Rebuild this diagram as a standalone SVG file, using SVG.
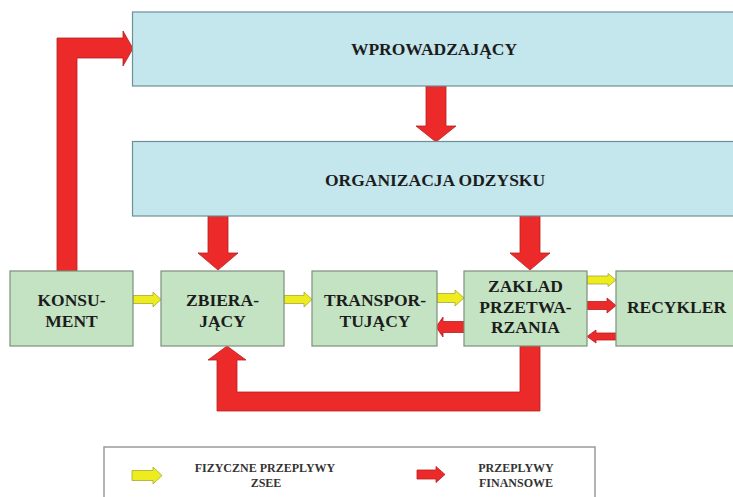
<svg xmlns="http://www.w3.org/2000/svg" width="733" height="497" viewBox="0 0 733 497">
<style>
.blue{fill:#c4e6ed;stroke:#6f8f97;stroke-width:1.2}
.green{fill:#c3e3c3;stroke:#7d8f7d;stroke-width:1.2}
.red{fill:#ec2a2a;stroke:#b81e1e;stroke-width:0.8;stroke-linejoin:miter}
.yel{fill:#ecec1e;stroke:#a8a632;stroke-width:0.8;stroke-linejoin:miter}
.t{font-family:"Liberation Serif","Times New Roman",serif;font-weight:bold;font-size:17.5px;fill:#1c1c1c;text-anchor:middle}
.s{font-family:"Liberation Serif","Times New Roman",serif;font-weight:bold;font-size:12px;fill:#333;text-anchor:middle}
.leg{fill:#fff;stroke:#9a9a9a;stroke-width:1.5}
</style>
<rect width="733" height="497" fill="#fff"/>
<g id="connectors">
<path class="red" d="M57,271 L57,38 L123,38 L123,31 L133,48.5 L123,66 L123,58 L77,58 L77,271 Z"/>
<path class="red" d="M426,86 L446,86 L446,126 L456,126 L436,142 L416,126 L426,126 Z"/>
<path class="red" d="M208,216 L228,216 L228,253 L238,253 L218,270 L198,253 L208,253 Z"/>
<path class="red" d="M520,216 L540,216 L540,253 L550,253 L530,270 L510,253 L520,253 Z"/>
<path class="red" d="M520,346 L540,346 L540,411 L217,411 L217,360 L208,360 L227,346 L246,360 L237,360 L237,392 L520,392 Z"/>
<path class="yel" d="M133,295.5 L153,295.5 L153,292 L161,299.5 L153,307 L153,303.5 L133,303.5 Z"/>
<path class="yel" d="M284,295.5 L304,295.5 L304,292 L312,299.5 L304,307 L304,303.5 L284,303.5 Z"/>
<path class="yel" d="M437,293.5 L455,293.5 L455,290 L464,298 L455,306 L455,302.5 L437,302.5 Z"/>
<path class="yel" d="M587,276 L608,276 L608,273.5 L616,280 L608,286.5 L608,284 L587,284 Z"/>
<path class="red" d="M464,321.5 L443,321.5 L443,317 L436,327 L443,337 L443,332.5 L464,332.5 Z"/>
<path class="red" d="M587,301.5 L607,301.5 L607,298 L616,305.5 L607,313 L607,309.5 L587,309.5 Z"/>
<path class="red" d="M616,333 L596,333 L596,330 L587,336.5 L596,343 L596,340 L616,340 Z"/>
</g>
<g id="wprowadzajacy">
<rect class="blue" x="132.5" y="12" width="610" height="74"/>
<text class="t" x="434" y="55">WPROWADZAJĄCY</text>
</g>
<g id="organizacja">
<rect class="blue" x="132.5" y="141.5" width="610" height="74.5"/>
<text class="t" x="435" y="186">ORGANIZACJA ODZYSKU</text>
</g>
<g id="konsument">
<rect class="green" x="10" y="271" width="123" height="75"/>
<text class="t" x="71.5" y="306">KONSU-</text>
<text class="t" x="71.5" y="327">MENT</text>
</g>
<g id="zbierajacy">
<rect class="green" x="161" y="271" width="123" height="75"/>
<text class="t" x="222.5" y="306">ZBIERA-</text>
<text class="t" x="222.5" y="327">JĄCY</text>
</g>
<g id="transportujacy">
<rect class="green" x="312" y="271" width="125" height="75"/>
<text class="t" x="375" y="306">TRANSPOR-</text>
<text class="t" x="375" y="327">TUJĄCY</text>
</g>
<g id="zaklad">
<rect class="green" x="464" y="271" width="123" height="75"/>
<text class="t" x="525.5" y="292">ZAKLAD</text>
<text class="t" x="525.5" y="313">PRZETWA-</text>
<text class="t" x="525.5" y="333">RZANIA</text>
</g>
<g id="recykler">
<rect class="green" x="616" y="271" width="130" height="75"/>
<text class="t" x="676.5" y="313">RECYKLER</text>
</g>
<g id="legend">
<rect class="leg" x="104" y="447" width="491" height="60"/>
<path class="yel" d="M132,470.5 L153,470.5 L153,467 L162,475.5 L153,484 L153,480.5 L132,480.5 Z"/>
<text class="s" x="265" y="472">FIZYCZNE PRZEPLYWY</text>
<text class="s" x="266" y="487">ZSEE</text>
<path class="red" d="M417,470 L436,470 L436,466.5 L445,474.5 L436,482.5 L436,479 L417,479 Z"/>
<text class="s" x="516" y="472">PRZEPLYWY</text>
<text class="s" x="516" y="487">FINANSOWE</text>
</g>
</svg>
